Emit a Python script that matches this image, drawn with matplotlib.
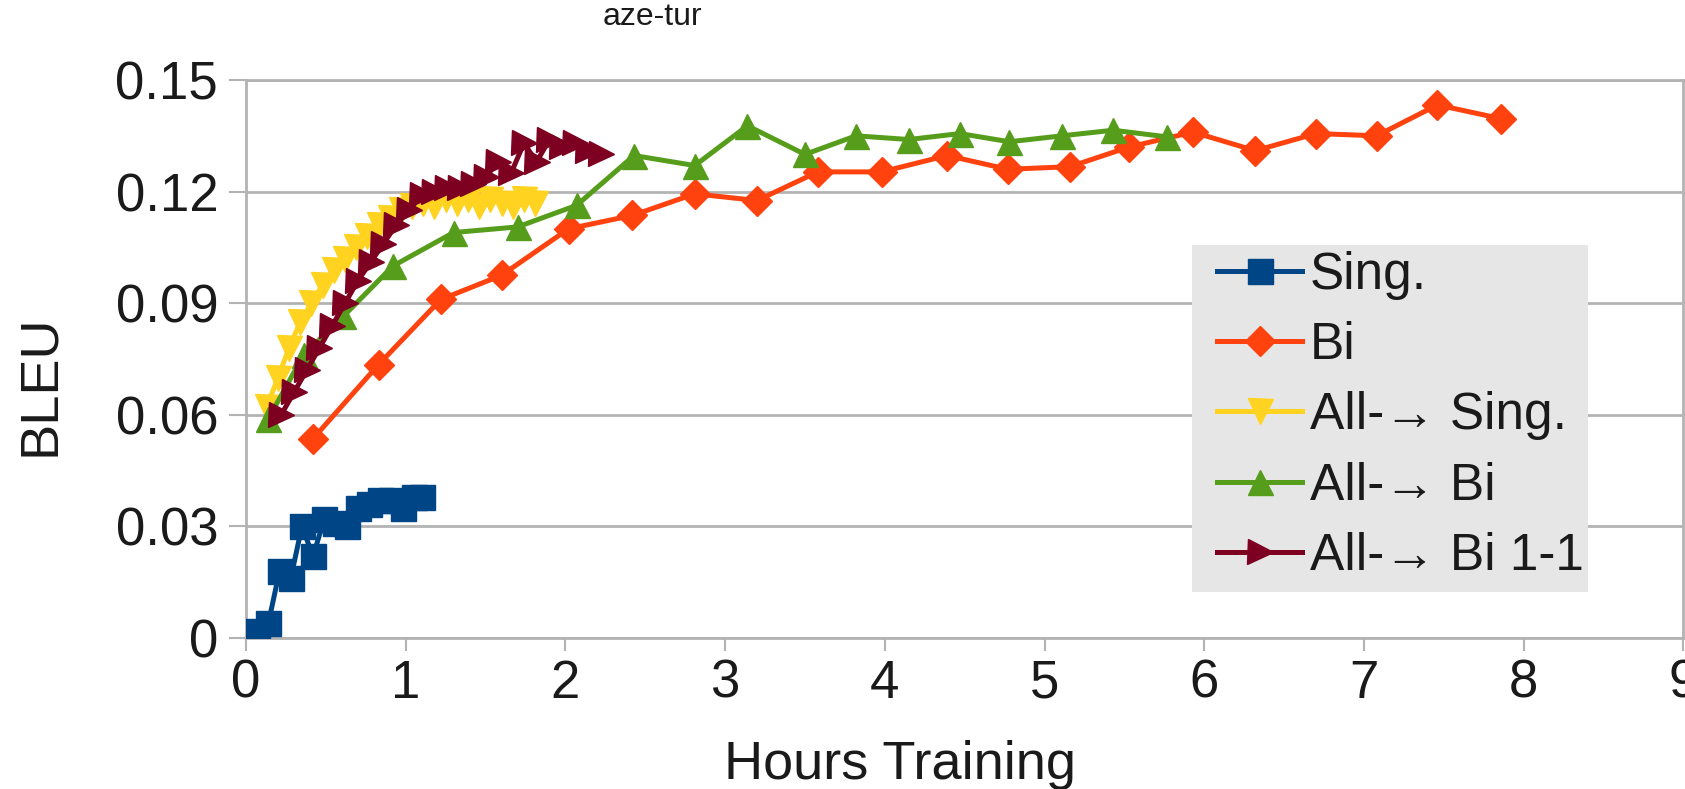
import numpy as np
import matplotlib
matplotlib.use("Agg")
import matplotlib.pyplot as plt
from matplotlib.patches import Rectangle
from matplotlib.ticker import FixedLocator, FuncFormatter

# data (hours, BLEU)
sing_x = [0.07, 0.14, 0.21, 0.28, 0.35, 0.42, 0.49, 0.56, 0.63, 0.70, 0.77, 0.84, 0.91, 0.98, 1.05, 1.10]
sing_y = [0.002, 0.004, 0.018, 0.016, 0.030, 0.022, 0.032, 0.031, 0.030, 0.035, 0.036, 0.037, 0.037, 0.035, 0.038, 0.038]

bi_x = [0.42, 0.83, 1.22, 1.60, 2.02, 2.42, 2.81, 3.20, 3.58, 3.98, 4.39, 4.77, 5.16, 5.53, 5.93, 6.32, 6.70, 7.08, 7.46, 7.86]
bi_y = [0.0536, 0.0735, 0.091, 0.0975, 0.110, 0.1136, 0.1194, 0.1176, 0.1253, 0.1253, 0.1297, 0.126, 0.1267, 0.132, 0.136, 0.131, 0.1356, 0.135, 0.1433, 0.1396]

all_sing_x = [0.13, 0.20, 0.27, 0.34, 0.41, 0.48, 0.55, 0.62, 0.69, 0.76, 0.83, 0.90, 0.97,
              1.04, 1.11, 1.18, 1.25, 1.32, 1.39, 1.46, 1.53, 1.60, 1.67, 1.74, 1.81]
all_sing_y = [0.062, 0.070, 0.078, 0.085, 0.090, 0.095, 0.099, 0.102, 0.105, 0.108, 0.111, 0.113, 0.115,
              0.116, 0.117, 0.116, 0.118, 0.117, 0.118, 0.116, 0.118, 0.117, 0.116, 0.118, 0.117]

all_bi_x = [0.14, 0.36, 0.61, 0.92, 1.30, 1.70, 2.07, 2.43, 2.81, 3.14, 3.50, 3.82, 4.15, 4.47, 4.78, 5.11, 5.43, 5.77]
all_bi_y = [0.059, 0.076, 0.0865, 0.100, 0.109, 0.1105, 0.1163, 0.1297, 0.127, 0.1377, 0.130, 0.135, 0.134, 0.1356, 0.1334, 0.135, 0.1365, 0.1347]

all_bi11_x = [0.22, 0.30, 0.38, 0.46, 0.54, 0.62, 0.70, 0.78, 0.86, 0.94, 1.02, 1.10, 1.18,
              1.26, 1.34, 1.42, 1.50, 1.58, 1.66, 1.74, 1.82, 1.90, 1.98, 2.06, 2.14, 2.22]
all_bi11_y = [0.060, 0.066, 0.072, 0.078, 0.084, 0.090, 0.096, 0.101, 0.106, 0.111, 0.115, 0.119, 0.120,
              0.121, 0.121, 0.122, 0.124, 0.128, 0.125, 0.133, 0.128, 0.134, 0.132, 0.133, 0.131, 0.130]

x_ticks = [0, 1, 2, 3, 4, 5, 6, 7, 8, 9]
y_ticks = [0, 0.03, 0.06, 0.09, 0.12, 0.15]

plt.rcParams["font.family"] = ["Liberation Sans", "DejaVu Sans"]

GRID = "#b3b3b3"
TEXT = "#1a1a1a"

fig = plt.figure(figsize=(16.85, 7.89), dpi=100)
ax = fig.add_axes([0.146, 0.1914, 0.999 - 0.146, 0.8986 - 0.1914])

series = [
    (sing_x, sing_y, "Sing.", "#004586", "s", 18),
    (bi_x, bi_y, "Bi", "#ff420e", "D", 15),
    (all_sing_x, all_sing_y, "All-\u2192 Sing.", "#ffd320", "v", 18),
    (all_bi_x, all_bi_y, "All-\u2192 Bi", "#579d1c", "^", 18),
    (all_bi11_x, all_bi11_y, "All-\u2192 Bi 1-1", "#7e0021", ">", 18),
]
for xs, ys, lab, col, mk, ms in series:
    ax.plot(xs, ys, color=col, lw=3.6, marker=mk, markersize=ms,
            markerfacecolor=col, markeredgecolor=col, label=lab, zorder=3)

ax.set_xlim(0, 9)
ax.set_ylim(0, 0.15)
ax.xaxis.set_major_locator(FixedLocator(x_ticks))
ax.yaxis.set_major_locator(FixedLocator(y_ticks))
ax.yaxis.set_major_formatter(FuncFormatter(lambda v, p: "%g" % round(v, 2)))
ax.grid(axis="y", color=GRID, lw=2.0, zorder=0)
for s in ax.spines.values():
    s.set_color(GRID)
    s.set_linewidth(2.0)
ax.tick_params(axis="both", colors=GRID, labelcolor=TEXT, labelsize=38, width=1.5)
ax.tick_params(axis="x", length=9, pad=6)
ax.tick_params(axis="y", length=12, pad=8)

fig.text(0.387, 0.978, "aze-tur", ha="center", va="center", fontsize=23, color=TEXT)
fig.text(0.534, 0.03, "Hours Training", ha="center", va="center", fontsize=39, color=TEXT)
fig.text(0.024, 0.512, "BLEU", ha="center", va="center", rotation=90, fontsize=39, color=TEXT)

# legend background box drawn separately so the text can sit where the reference has it
ax.add_patch(Rectangle((0.658, 0.082), 0.276, 0.622, transform=ax.transAxes,
                       facecolor="#e6e6e6", edgecolor="none", zorder=4))
leg = ax.legend(loc="upper left", bbox_to_anchor=(0.6757, 0.693), fontsize=37,
                frameon=False, handlelength=1.65, handletextpad=0.15,
                labelspacing=0.41, borderpad=0, borderaxespad=0)
leg.set_zorder(5)
for t in leg.get_texts():
    t.set_color(TEXT)

fig.savefig("out.png", dpi=100, facecolor="white")
